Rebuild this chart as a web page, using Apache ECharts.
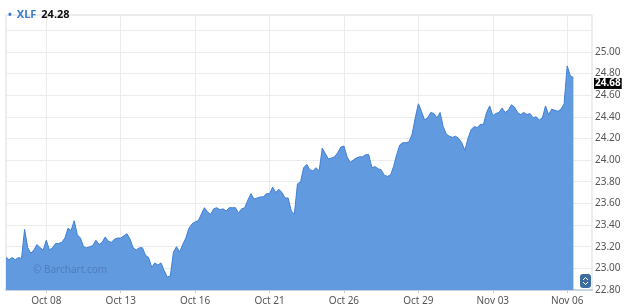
<!DOCTYPE html>
<html>
<head>
<meta charset="utf-8">
<script src="https://cdn.jsdelivr.net/npm/echarts@6/dist/echarts.min.js"></script>
<style>html,body{margin:0;padding:0;background:#fff;}#c{width:628px;height:307px;}</style>
</head>
<body>
<div id="c"></div>
<script>
// Trading days shown (intraday, 8 slots per day)
const days = ['Oct 06','Oct 07','Oct 08','Oct 09','Oct 12','Oct 13','Oct 14','Oct 15','Oct 16','Oct 19','Oct 20','Oct 21','Oct 22','Oct 23','Oct 26','Oct 27','Oct 28','Oct 29','Oct 30','Nov 02','Nov 03','Nov 04','Nov 05','Nov 06'];
const slotsPerDay = 8;
const firstDayStartSlot = 3;
const lastDaySlots = 3;
const padSlots = 6;
const tickDays = ['Oct 08','Oct 13','Oct 16','Oct 21','Oct 26','Oct 29','Nov 03','Nov 06'];
const yTickLabels = ['22.80','23.00','23.20','23.40','23.60','23.80','24.00','24.20','24.40','24.60','24.80','25.00'];
const lastLabel = 24.68;
const titleSymbol = 'XLF';
const titleValue = '24.28';

const prices = [
23.10,23.08,23.10,23.08,23.10,23.09,23.36,23.19,23.14,23.17,
23.22,23.19,23.17,23.26,23.17,23.19,23.23,23.23,23.24,23.28,
23.37,23.35,23.44,23.31,23.28,23.20,23.19,23.20,23.21,23.26,
23.22,23.24,23.29,23.25,23.24,23.27,23.28,23.28,23.30,23.32,
23.27,23.19,23.17,23.19,23.19,23.12,23.10,23.01,23.05,23.03,
23.05,22.98,22.92,22.93,23.15,23.20,23.15,23.22,23.28,23.37,
23.41,23.43,23.44,23.50,23.56,23.52,23.50,23.55,23.56,23.54,
23.55,23.53,23.56,23.56,23.56,23.51,23.55,23.56,23.63,23.69,
23.64,23.65,23.66,23.66,23.69,23.69,23.75,23.70,23.73,23.70,
23.65,23.65,23.53,23.50,23.78,23.80,23.93,23.96,23.91,23.90,
23.93,23.90,24.11,24.06,24.01,24.02,24.03,24.07,24.12,24.13,
24.03,23.98,24.00,24.02,24.03,24.03,24.05,24.05,23.93,23.94,
23.92,23.91,23.86,23.85,23.86,23.94,24.05,24.14,24.16,24.16,
24.17,24.24,24.39,24.52,24.45,24.37,24.39,24.44,24.43,24.39,
24.44,24.31,24.24,24.22,24.21,24.22,24.20,24.16,24.09,24.20,
24.28,24.31,24.30,24.33,24.33,24.44,24.50,24.41,24.43,24.44,
24.48,24.44,24.46,24.51,24.49,24.44,24.42,24.44,24.42,24.43,
24.39,24.40,24.37,24.39,24.50,24.42,24.47,24.46,24.45,24.47,
24.52,24.87,24.78,24.76
];

// categories built from the day list
const categories = [];
days.forEach((d, di) => {
  const s0 = di === 0 ? firstDayStartSlot : 0;
  const s1 = di === days.length - 1 ? lastDaySlots : slotsPerDay;
  for (let s = s0; s < s1; s++) categories.push(d + ' #' + s);
});
for (let p = 0; p < padSlots; p++) categories.push('pad #' + p);

const isTick = (idx, val) => {
  const parts = String(val).split(' #');
  return parts[1] === '0' && tickDays.indexOf(parts[0]) >= 0;
};

const FONT = 'Noto Sans';
const chart = echarts.init(document.getElementById('c'));
chart.setOption({
  animation: false,
  backgroundColor: '#fff',
  title: {
    left: 3, top: 1,
    text: '{b|•} {n|' + titleSymbol + '} {v|' + titleValue + '}',
    textStyle: {
      rich: {
        b: {color: '#3b7bd4', fontSize: 10, fontFamily: FONT},
        n: {color: '#3b7bd4', fontSize: 11, fontFamily: FONT},
        v: {color: '#111', fontSize: 11, fontWeight: 'bold', fontFamily: FONT}
      }
    }
  },
  grid: {left: 6, right: 36, top: 15, bottom: 17, show: true, borderColor: '#dcdcdc', borderWidth: 1, backgroundColor: 'transparent'},
  xAxis: {
    type: 'category',
    data: categories,
    boundaryGap: false,
    axisLine: {show: true, lineStyle: {color: '#c9d5e4', width: 2}},
    axisTick: {show: true, interval: isTick, length: 3, lineStyle: {color: '#ccc'}},
    splitLine: {show: true, interval: isTick, lineStyle: {color: '#ececec'}},
    axisLabel: {
      interval: isTick, margin: 6, color: '#555', fontSize: 10, fontFamily: FONT,
      formatter: v => String(v).split(' #')[0]
    }
  },
  yAxis: {
    type: 'value',
    position: 'right',
    min: 22.8, max: 25.34, interval: 0.2,
    axisLine: {show: false},
    axisTick: {show: false},
    splitLine: {show: true, lineStyle: {color: '#ececec'}},
    axisLabel: {
      margin: 3, color: '#555', fontSize: 10, fontFamily: FONT,
      padding: [0, 0, 7, 0],
      formatter: v => {
        const t = v.toFixed(2);
        return yTickLabels.indexOf(t) >= 0 ? t : '';
      }
    }
  },
  series: [{
    type: 'line',
    data: prices,
    symbol: 'none',
    lineStyle: {color: '#3f80d6', width: 1},
    areaStyle: {color: '#629ae0', opacity: 1, origin: 'start'},
    z: 2,
    markLine: {
      silent: true,
      symbol: 'none',
      lineStyle: {color: 'rgba(0,0,0,0)', width: 0, type: 'solid'},
      data: [{yAxis: lastLabel}],
      label: {
        show: true,
        position: 'end', distance: 2,
        formatter: lastLabel.toFixed(2),
        backgroundColor: '#000', color: '#fff', fontWeight: 'bold',
        fontSize: 10, fontFamily: FONT, padding: [1, 1, 0, 1],
        offset: [0, -3]
      }
    }
  }],
  graphic: [
    {type: 'text', left: 33, top: 265, z: 10,
     style: {text: '© Barchart.com', fill: '#4f7dbd', font: '10px "Noto Sans"'}},
    {type: 'group', left: 580, top: 274, z: 10, children: [
      {type: 'rect', shape: {x: 0, y: 0, width: 11, height: 14, r: 3}, style: {fill: '#3d6c9f'}},
      {type: 'polyline', shape: {points: [[3, 6], [5.5, 3.5], [8, 6]]}, style: {stroke: '#fff', lineWidth: 1, fill: null}},
      {type: 'polyline', shape: {points: [[3, 8], [5.5, 10.5], [8, 8]]}, style: {stroke: '#fff', lineWidth: 1, fill: null}}
    ]}
  ]
});
</script>
</body>
</html>
